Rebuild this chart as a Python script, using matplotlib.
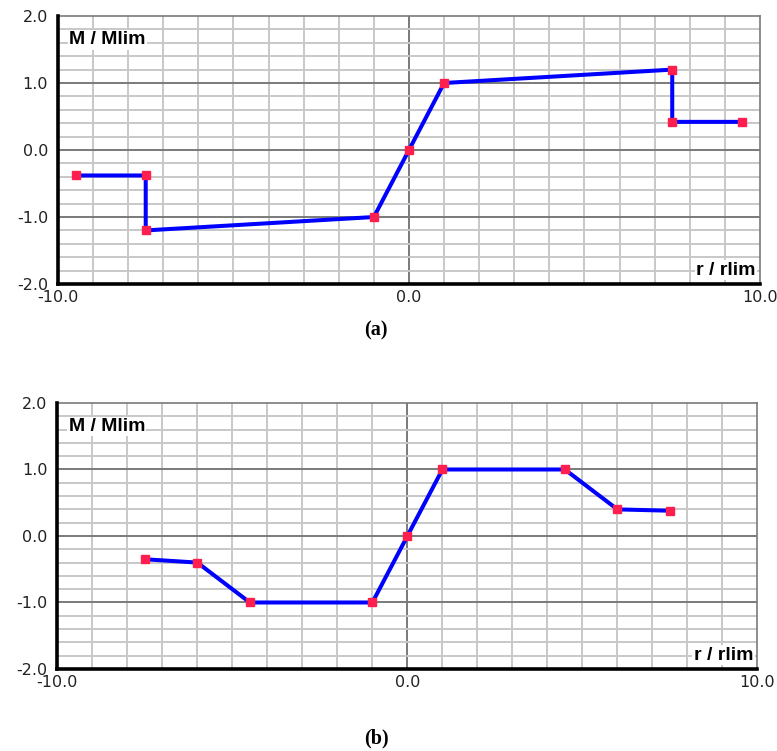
import numpy as np
import matplotlib
matplotlib.use('Agg')
import matplotlib.pyplot as plt

# panel (a): moment-rotation with sudden drop
r_a = [-9.5, -7.5, -7.5, -1.0, 0.0, 1.0, 7.5, 7.5, 9.5]
m_a = [-0.38, -0.38, -1.2, -1.0, 0.0, 1.0, 1.2, 0.42, 0.42]

# panel (b): gradual degradation
r_b = [-7.5, -6.0, -4.5, -1.0, 0.0, 1.0, 4.5, 6.0, 7.5]
m_b = [-0.35, -0.4, -1.0, -1.0, 0.0, 1.0, 1.0, 0.4, 0.38]

x_ticks = [-10, 0, 10]
x_labels = ['-10.0', '0.0', '10.0']
y_ticks = [-2, -1, 0, 1, 2]
y_labels = ['-2.0', '-1.0', '0.0', '1.0', '2.0']


def draw_panel(ax, r, m):
    ax.set_xlim(-10, 10)
    ax.set_ylim(-2, 2)

    # light grid
    for xv in np.arange(-9, 10):
        c = '#7a7a7a' if xv == 0 else '#c8c8c8'
        ax.axvline(xv, color=c, lw=1.4, zorder=1)
    for yv in np.arange(-1.8, 2.0, 0.2):
        yv = round(yv, 1)
        c = '#7a7a7a' if abs(yv - round(yv)) < 1e-6 else '#c8c8c8'
        ax.axhline(yv, color=c, lw=1.4, zorder=1)

    ax.plot(r, m, color='#0000ff', lw=2.9, zorder=3,
            marker='s', markersize=6, markerfacecolor='#ff1f4f',
            markeredgecolor='#ff1f4f')

    ax.set_xticks(x_ticks)
    ax.set_xticklabels(x_labels)
    ax.set_yticks(y_ticks)
    ax.set_yticklabels(y_labels)
    ax.tick_params(length=0, labelsize=11.5, labelcolor='#222222')
    ax.tick_params(axis='x', pad=4)
    ax.tick_params(axis='y', pad=7)

    for s in ['left', 'bottom']:
        ax.spines[s].set_linewidth(2.6)
        ax.spines[s].set_color('black')
    for s in ['top', 'right']:
        ax.spines[s].set_linewidth(1.2)
        ax.spines[s].set_color('#7a7a7a')
    ax.spines['left'].set_zorder(4)
    ax.spines['bottom'].set_zorder(4)

    ax.text(0.016, 0.895, 'M / Mlim', transform=ax.transAxes,
            fontsize=14, fontweight='bold', family='Liberation Sans',
            ha='left', va='baseline', zorder=5,
            bbox=dict(facecolor='white', edgecolor='none', pad=1))
    ax.text(0.994, 0.035, 'r / rlim', transform=ax.transAxes,
            fontsize=14, fontweight='bold', family='Liberation Sans',
            ha='right', va='baseline', zorder=5,
            bbox=dict(facecolor='white', edgecolor='none', pad=1))


fig = plt.figure(figsize=(7.77, 7.51), dpi=100)
ax1 = fig.add_axes([0.0746, 0.6218, 0.9035, 0.3569])
ax2 = fig.add_axes([0.0738, 0.1092, 0.9010, 0.3542])

draw_panel(ax1, r_a, m_a)
draw_panel(ax2, r_b, m_b)

fig.text(376 / 777, 1 - 330 / 751, '(a)', ha='center', va='center',
         fontsize=14.5, fontweight='bold', family='Liberation Serif')
fig.text(376 / 777, 1 - 738 / 751, '(b)', ha='center', va='center',
         fontsize=14.5, fontweight='bold', family='Liberation Serif')

fig.savefig('out.png', dpi=100)
